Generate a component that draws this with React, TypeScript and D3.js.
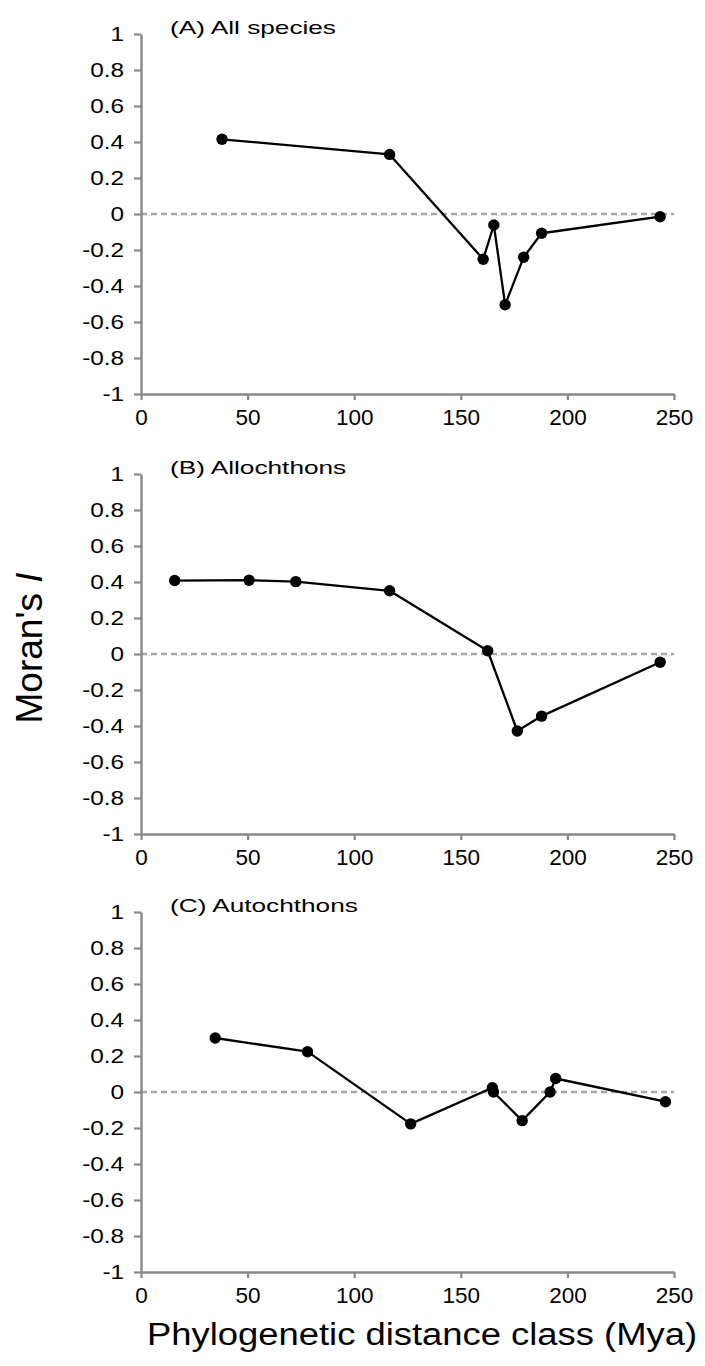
import * as React from "react";
import * as d3 from "d3";

// panel titles
const panelTitles = ["(A) All species", "(B) Allochthons", "(C) Autochthons"];

// (A) all species
const allDist = [38, 116.6, 160.5, 165.5, 170.8, 179.5, 187.9, 243.5];
const allMoran = [0.415, 0.331, -0.251, -0.061, -0.504, -0.24, -0.107, -0.015];

// (B) allochthons
const alloDist = [15.8, 50.7, 72.6, 116.6, 162.6, 176.5, 187.9, 243.5];
const alloMoran = [0.408, 0.41, 0.402, 0.351, 0.018, -0.428, -0.345, -0.046];

// (C) autochthons
const autoDist = [34.8, 78.1, 126.5, 164.8, 165.3, 178.8, 191.9, 194.5, 246];
const autoMoran = [0.3, 0.224, -0.177, 0.024, 0.0, -0.159, 0.0, 0.075, -0.054];

const xTicks = [0, 50, 100, 150, 200, 250];
const yTicks = [-1, -0.8, -0.6, -0.4, -0.2, 0, 0.2, 0.4, 0.6, 0.8, 1];

const yLabel = "Moran's ";
const yLabelItalic = "I";
const xLabel = "Phylogenetic distance class (Mya)";

interface Pt {
  x: number;
  y: number;
}

const series: Pt[][] = [
  allDist.map((x, i) => ({ x, y: allMoran[i] })),
  alloDist.map((x, i) => ({ x, y: alloMoran[i] })),
  autoDist.map((x, i) => ({ x, y: autoMoran[i] })),
];

const axisColor = "#898989";
const font = '"Liberation Sans", Arial, sans-serif';

function drawChart(svgRef: React.RefObject<SVGSVGElement | null>) {
  const svg = d3.select(svgRef.current);
  svg.selectAll("*").remove();

  const left = 141;
  const right = 674;
  const panelTops = [34, 474, 912];
  const panelHeight = 360;

  const xScale = d3.scaleLinear().domain([0, 250]).range([left, right]);

  panelTops.forEach((top, p) => {
    const yScale = d3
      .scaleLinear()
      .domain([-1, 1])
      .range([top + panelHeight, top]);

    const g = svg.append("g").attr("class", "panel");

    // zero line
    g.append("line")
      .attr("x1", xScale(0))
      .attr("x2", xScale(250))
      .attr("y1", yScale(0))
      .attr("y2", yScale(0))
      .attr("stroke", "#a6a6a6")
      .attr("stroke-width", 2.5)
      .attr("stroke-dasharray", "6,4");

    // y axis
    const yAxis = d3
      .axisLeft(yScale)
      .tickValues(yTicks)
      .tickFormat((d) => `${d}`)
      .tickSize(7)
      .tickSizeOuter(0)
      .tickPadding(6.5);

    const yg = g
      .append("g")
      .attr("transform", `translate(${left}, 0)`)
      .call(yAxis);
    yg.select(".domain").attr("stroke", axisColor).attr("stroke-width", 2.4);
    yg.selectAll(".tick line").attr("stroke", axisColor).attr("stroke-width", 2.2);
    yg.selectAll(".tick text")
      .attr("font-family", font)
      .attr("font-size", 19.5)
      .attr("transform", "scale(1.25,1)")
      .attr("fill", "#000");

    // x axis
    const xAxis = d3
      .axisBottom(xScale)
      .tickValues(xTicks)
      .tickFormat((d) => `${d}`)
      .tickSize(6)
      .tickSizeOuter(0)
      .tickPadding(9);

    const xg = g
      .append("g")
      .attr("transform", `translate(0, ${top + panelHeight})`)
      .call(xAxis);
    xg.select(".domain").attr("stroke", axisColor).attr("stroke-width", 2.4);
    xg.selectAll(".tick line").attr("stroke", axisColor).attr("stroke-width", 2.2);
    xg.selectAll(".tick text")
      .attr("font-family", font)
      .attr("font-size", 22.5)
      .attr("fill", "#000");

    // title
    g.append("text")
      .attr("transform", `translate(170, ${top}) scale(1.38,1)`)
      .attr("font-family", font)
      .attr("font-size", 19)
      .attr("fill", "#000")
      .text(panelTitles[p]);

    // line + points
    const line = d3
      .line<Pt>()
      .x((d) => xScale(d.x))
      .y((d) => yScale(d.y));

    g.append("path")
      .attr("d", line(series[p]))
      .attr("fill", "none")
      .attr("stroke", "#000")
      .attr("stroke-width", 2.3)
      .attr("stroke-linejoin", "round");

    g.selectAll("circle.pt")
      .data(series[p])
      .enter()
      .append("circle")
      .attr("class", "pt")
      .attr("cx", (d) => xScale(d.x))
      .attr("cy", (d) => yScale(d.y))
      .attr("r", 5.7)
      .attr("fill", "#000");
  });

  // y label
  const yl = svg
    .append("text")
    .attr("transform", "translate(42, 648) rotate(-90)")
    .attr("text-anchor", "middle")
    .attr("font-family", font)
    .attr("font-size", 37)
    .attr("fill", "#000");
  yl.append("tspan").text(yLabel);
  yl.append("tspan").attr("font-style", "italic").text(yLabelItalic);

  // x label
  svg
    .append("text")
    .attr("x", 147)
    .attr("y", 1345)
    .attr("font-family", font)
    .attr("font-size", 31)
    .attr("fill", "#000")
    .attr("textLength", 550)
    .attr("lengthAdjust", "spacingAndGlyphs")
    .text(xLabel);
}

export default function App() {
  const svg = React.useRef<SVGSVGElement>(null);
  React.useEffect(() => {
    drawChart(svg);
  }, [svg]);

  return (
    <svg
      ref={svg}
      width={705}
      height={1366}
      style={{ position: "absolute", left: 0, top: 0, background: "#fff" }}
    />
  );
}
